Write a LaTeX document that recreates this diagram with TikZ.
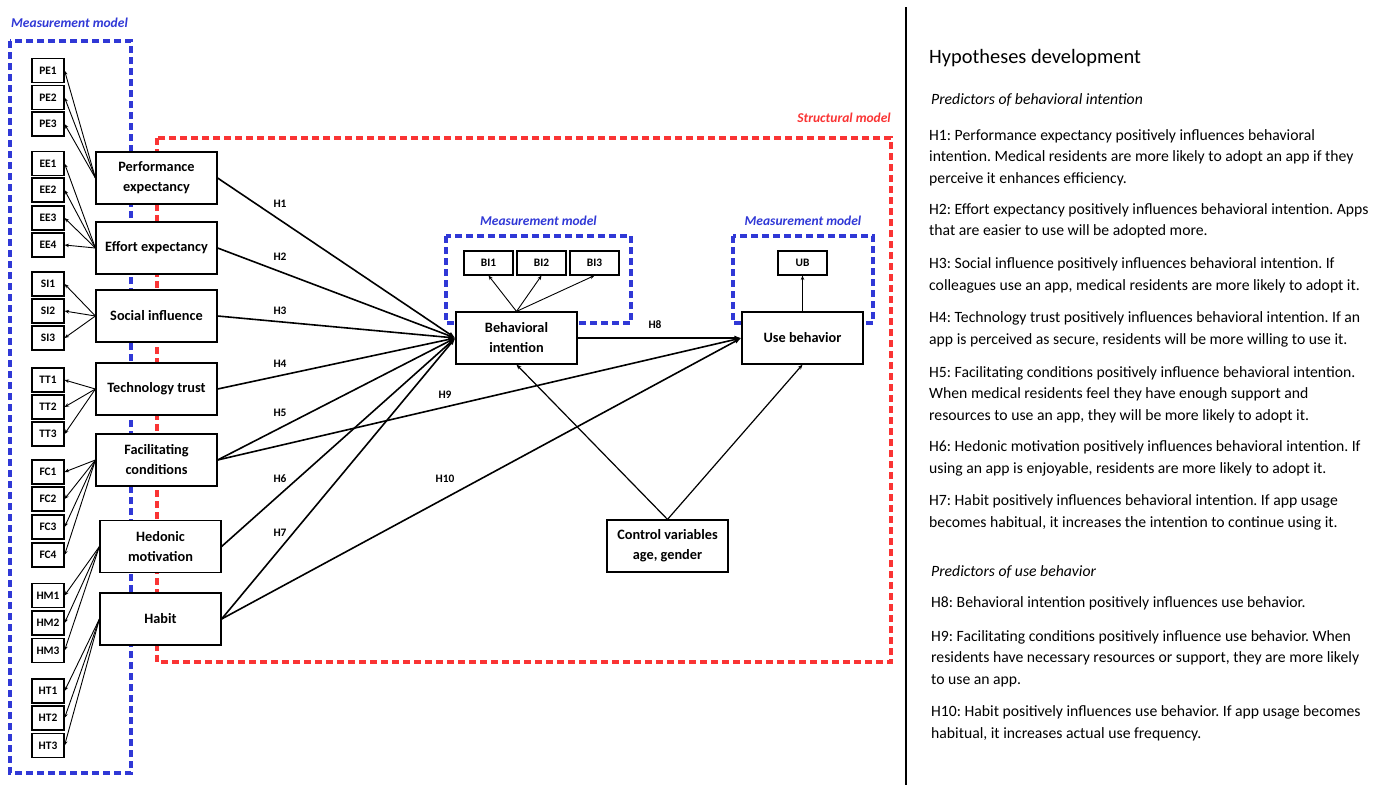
\documentclass[tikz,border=0pt]{standalone}
\usepackage{fontspec}
\setmainfont{Carlito}
\usetikzlibrary{arrows.meta}
\definecolor{mblue}{RGB}{48,56,214}
\definecolor{mred}{RGB}{250,52,52}
\frenchspacing
\begin{document}
\frenchspacing
\begin{tikzpicture}[x=1pt,y=-1pt,
  ind/.style={draw, line width=1.1pt, fill=white, minimum width=32pt, minimum height=24pt, inner sep=0pt, font=\bfseries\fontsize{11.4}{13}\selectfont},
  indw/.style={ind, minimum width=49pt},
  con/.style={draw, line width=1.2pt, fill=white, minimum width=121pt, minimum height=52pt, inner sep=1pt, align=center, font=\bfseries\fontsize{14.3}{20}\selectfont},
  bluedash/.style={draw=mblue, line width=3.2pt, dash pattern=on 7pt off 4pt},
  reddash/.style={draw=mred, line width=3.2pt, dash pattern=on 7pt off 4pt},
  mlabel/.style={font=\bfseries\itshape\fontsize{13.5}{15}\selectfont},
  hlab/.style={font=\bfseries\fontsize{11.4}{13}\selectfont, inner sep=0pt},
  thin/.style={line width=0.9pt, -{Stealth[length=4.5pt,width=3.6pt]}},
  main/.style={line width=1.6pt, -{Latex[length=7pt,width=5pt]}},
  ctrl/.style={line width=1.2pt, -{Stealth[length=5pt,width=4pt]}},
  ptext/.style={anchor=base west, inner sep=0pt, font=\fontsize{15.7}{21.6}\selectfont},
]
\useasboundingbox (0,0) rectangle (1378,785);

% dashed frames
\draw[bluedash] (10,41) rectangle (131,773);
\node[mlabel, text=mblue, anchor=base west, inner sep=0pt] (mm1) at (11,27) {Measurement model};
\draw[reddash] (157,138) rectangle (891,662);
\node[mlabel, text=mred, anchor=base east, inner sep=0pt] (sm) at (891,122) {Structural model};
\draw[bluedash] (446,236) rectangle (631,323);
\node[mlabel, text=mblue, anchor=base, inner sep=0pt] (mm2) at (538.5,225) {Measurement model};
\draw[bluedash] (733,236) rectangle (873,323);
\node[mlabel, text=mblue, anchor=base, inner sep=0pt] (mm3) at (803,225) {Measurement model};

% divider
\draw[line width=1.3pt] (906,7) -- (906,785);

% indicators
\foreach \n/\y in {PE1/70.5, PE2/97.5, PE3/124, EE1/163.5, EE2/190, EE3/218, EE4/245,
  SI1/284, SI2/311, SI3/338, TT1/380, TT2/407, TT3/434, FC1/472, FC2/499, FC3/527, FC4/555,
  HM1/595.5, HM2/623, HM3/650.5, HT1/691, HT2/718, HT3/745.5}
  \node[ind] (\n) at (48,\y) {\n};

% constructs
\node[con] (PE) at (156.5,178) {Performance\\expectancy};
\node[con] (EE) at (156.5,248) {Effort expectancy};
\node[con] (SI) at (156.5,316) {Social influence};
\node[con] (TT) at (156.5,389) {Technology trust};
\node[con] (FC) at (156.5,460) {Facilitating\\conditions};
\node[con] (HM) at (160.5,546.5) {Hedonic\\motivation};
\node[con] (HB) at (160.5,619) {Habit};
\node[con] (BI) at (516.5,338) {Behavioral\\intention};
\node[con] (UB) at (802.5,338) {Use behavior};
\node[con] (CV) at (667.5,546) {Control variables\\age, gender};

\node[indw] (BI1) at (488.5,263) {BI1};
\node[indw] (BI2) at (541.5,263) {BI2};
\node[indw] (BI3) at (594.5,263) {BI3};
\node[indw] (UBi) at (802.5,263) {UB};

% measurement arrows
\foreach \c/\list in {PE/{PE1,PE2,PE3}, EE/{EE1,EE2,EE3,EE4}, SI/{SI1,SI2,SI3}, TT/{TT1,TT2,TT3},
  FC/{FC1,FC2,FC3,FC4}, HM/{HM1,HM2,HM3}, HB/{HT1,HT2,HT3}}
  \foreach \i in \list
    \draw[thin] (\c.west) -- (\i.east);
\foreach \i in {BI1,BI2,BI3}
  \draw[thin] (BI.north) -- (\i.south);
\draw[thin] (UB.north) -- (UBi.south);

% structural arrows
\foreach \c in {PE,EE,SI,TT,FC,HM,HB}
  \draw[main] (\c.east) -- (BI.west);
\draw[main] (BI.east) -- (UB.west);
\draw[main] (FC.east) -- (UB.west);
\draw[main] (HB.east) -- (UB.west);
\draw[ctrl] (CV.north) -- (BI.south);
\draw[ctrl] (CV.north) -- (UB.south);

% hypothesis labels
\node[hlab] (h1) at (280,204) {H1};
\node[hlab] (h2) at (280,257) {H2};
\node[hlab] (h3) at (280,311) {H3};
\node[hlab] (h4) at (280,364) {H4};
\node[hlab] (h5) at (280,413) {H5};
\node[hlab] (h6) at (280,479) {H6};
\node[hlab] (h7) at (280,533) {H7};
\node[hlab] (h8) at (655,325) {H8};
\node[hlab] (h9) at (445,395) {H9};
\node[hlab] (h10) at (445,479) {H10};

% right-hand text
\node[anchor=base west, inner sep=0pt, font=\fontsize{20.4}{24}\selectfont] (title) at (929,63) {Hypotheses development};
\node[ptext, font=\itshape\fontsize{15.7}{21.6}\selectfont] (sub1) at (931,104) {Predictors of behavioral intention};
\node[ptext] (t1) at (929,140) {\parbox[t]{445pt}{\frenchspacing H1: Performance expectancy positively influences behavioral\\intention. Medical residents are more likely to adopt an app if they\\perceive it enhances efficiency.}};
\node[ptext] (t2) at (929,214) {\parbox[t]{445pt}{\frenchspacing H2: Effort expectancy positively influences behavioral intention. Apps\\that are easier to use will be adopted more.}};
\node[ptext] (t3) at (929,268.5) {\parbox[t]{445pt}{\frenchspacing H3: Social influence positively influences behavioral intention. If\\colleagues use an app, medical residents are more likely to adopt it.}};
\node[ptext] (t4) at (929,322.5) {\parbox[t]{445pt}{\frenchspacing H4: Technology trust positively influences behavioral intention. If an\\app is perceived as secure, residents will be more willing to use it.}};
\node[ptext] (t5) at (929,377) {\parbox[t]{445pt}{\frenchspacing H5: Facilitating conditions positively influence behavioral intention.\\When medical residents feel they have enough support and\\resources to use an app, they will be more likely to adopt it.}};
\node[ptext] (t6) at (929,451.5) {\parbox[t]{445pt}{\frenchspacing H6: Hedonic motivation positively influences behavioral intention. If\\using an app is enjoyable, residents are more likely to adopt it.}};
\node[ptext] (t7) at (929,505.5) {\parbox[t]{445pt}{\frenchspacing H7: Habit positively influences behavioral intention. If app usage\\becomes habitual, it increases the intention to continue using it.}};
\node[ptext, font=\itshape\fontsize{15.7}{21.6}\selectfont] (sub2) at (931,576) {Predictors of use behavior};
\node[ptext] (t8) at (931,607.5) {\parbox[t]{445pt}{\frenchspacing H8: Behavioral intention positively influences use behavior.}};
\node[ptext] (t9) at (931,641) {\parbox[t]{445pt}{\frenchspacing H9: Facilitating conditions positively influence use behavior. When\\residents have necessary resources or support, they are more likely\\to use an app.}};
\node[ptext] (t10) at (931,716.5) {\parbox[t]{445pt}{\frenchspacing H10: Habit positively influences use behavior. If app usage becomes\\habitual, it increases actual use frequency.}};
\end{tikzpicture}
\end{document}
